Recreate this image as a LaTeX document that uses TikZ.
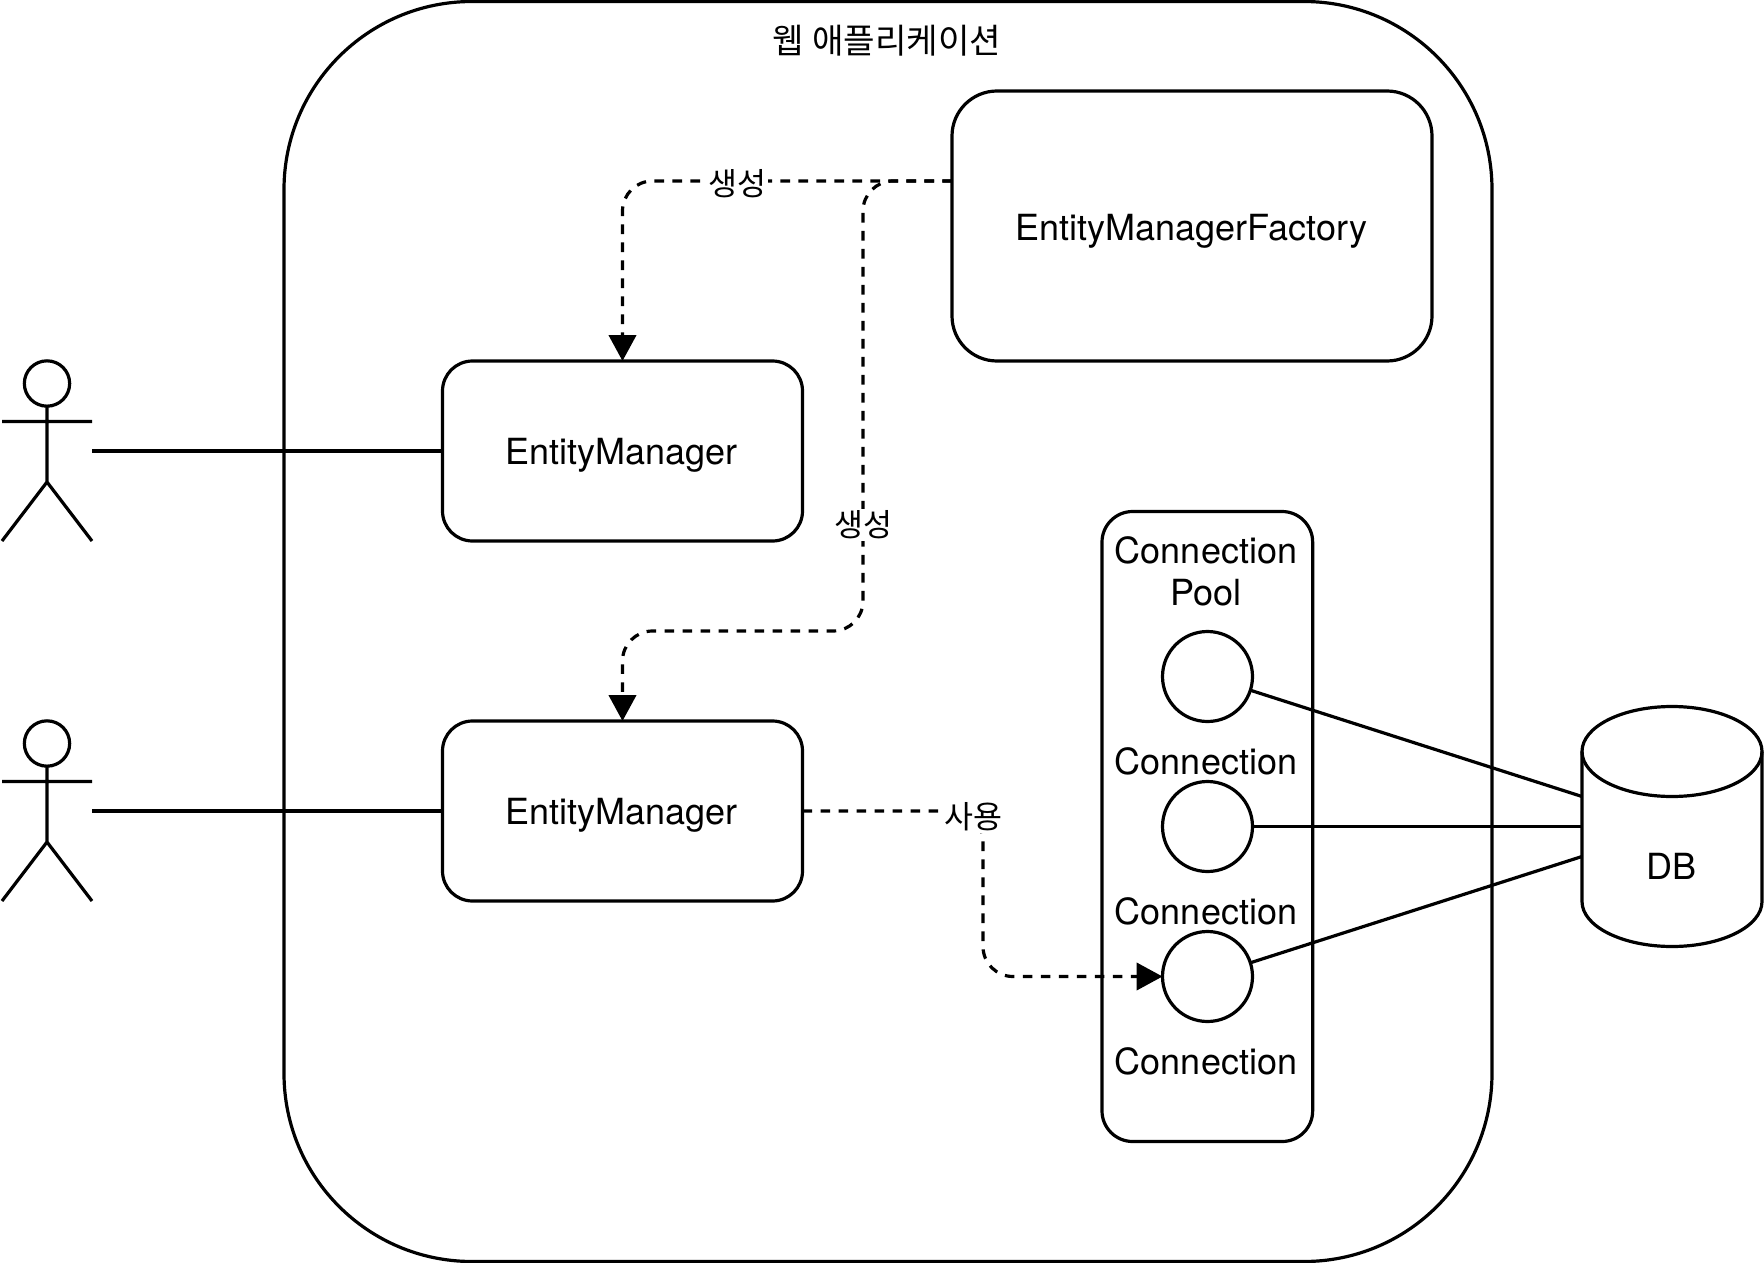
\documentclass[tikz,border=0pt]{standalone}
\usepackage{fontspec}
\setmainfont{TeX Gyre Heros}
\newfontfamily\krfont{Noto Sans CJK KR}
\usetikzlibrary{arrows.meta}
\tikzset{
  x=0.75pt,y=-0.75pt,
  ln/.style={draw=black,line width=2.4pt},
  rbox/.style={ln,rectangle,inner sep=0pt,outer sep=0pt,align=center,font=\fontsize{27}{31.5}\selectfont},
  txt/.style={inner sep=0pt,align=center,font=\fontsize{27}{31.5}\selectfont},
  krlabel/.style={fill=white,inner sep=1.5pt,font=\krfont\fontsize{23.6}{28}\selectfont},
  conn/.style={ln,dash pattern=on 7.2pt off 6.3pt,rounded corners=22.5pt},
  tip/.style={-{Triangle[length=19.5pt,width=20.5pt,sep=0pt]}},
  dot/.style={ln,circle,inner sep=0pt,outer sep=0pt,minimum size=67.5pt,fill=white},
  head/.style={ln,circle,inner sep=0pt,outer sep=0pt,minimum size=34pt}
}
\begin{document}
\begin{tikzpicture}
\useasboundingbox (0,0) rectangle (1764,1263);
% outer application box
\node[rbox,minimum width=906pt,minimum height=945pt,rounded corners=141pt,anchor=north west] (app) at (284,1.5) {};
\node[inner sep=0pt,font=\krfont\fontsize{25.7}{30}\selectfont] (apptitle) at (887,41) {웹 애플리케이션};
% main boxes
\node[rbox,minimum width=360pt,minimum height=202.5pt,rounded corners=33.75pt,anchor=north west] (emf) at (952,91) {};
\node[txt] (emft) at (1191.5,231) {EntityManagerFactory};
\node[rbox,minimum width=270pt,minimum height=135pt,rounded corners=22.5pt,anchor=north west] (em1) at (442.5,361) {};
\node[txt] (em1t) at (621.5,455.5) {EntityManager};
\node[rbox,minimum width=270pt,minimum height=135pt,rounded corners=22.5pt,anchor=north west] (em2) at (442.5,721) {};
\node[txt] (em2t) at (621.5,815.5) {EntityManager};
% pool
\node[rbox,minimum width=158pt,minimum height=472.5pt,rounded corners=23pt,anchor=north west] (pool) at (1102,511.5) {};
\node[txt] (poolt) at (1206,571.5) {Connection\\Pool};
\node[dot] (c1) at (1207.5,676.5) {};
\node[dot] (c2) at (1207.5,826.5) {};
\node[dot] (c3) at (1207.5,976.5) {};
\node[txt] (c1t) at (1206,761) {Connection};
\node[txt] (c2t) at (1206,911) {Connection};
\node[txt] (c3t) at (1206,1061) {Connection};
% database
\draw[ln] (1582,751.5) arc[start angle=180,end angle=0,x radius=67.5pt,y radius=33.75pt]
  -- (1762,901.5) arc[start angle=0,end angle=-180,x radius=67.5pt,y radius=33.75pt] -- cycle;
\draw[ln] (1582,751.5) arc[start angle=180,end angle=360,x radius=67.5pt,y radius=33.75pt];
\node[txt] (db) at (1671,866) {DB};
\coordinate (dba) at (1582,796.5);
\coordinate (dbb) at (1582,826.5);
\coordinate (dbc) at (1582,856.5);
\draw[ln] (c1) -- (dba);
\draw[ln] (c2) -- (dbb);
\draw[ln] (c3) -- (dbc);
% actors
\foreach \n/\dy in {a/0,b/360}{
  \node[head] (head\n) at (47,{383.5+\dy}) {};
  \coordinate (hip\n) at (47,{482+\dy});
  \coordinate (armL\n) at (2,{421.5+\dy});
  \coordinate (armR\n) at (92,{421.5+\dy});
  \coordinate (footL\n) at (2,{541+\dy});
  \coordinate (footR\n) at (92,{541+\dy});
  \coordinate (hand\n) at (92,{451+\dy});
  \draw[ln] (head\n) -- (hip\n) (armL\n) -- (armR\n) (footL\n) -- (hip\n) -- (footR\n);
}
\draw[ln] (handa) -- (em1.west);
\draw[ln] (handb) -- (em2.west);
% dashed connectors
\draw[conn,tip] (emf.west |- 0,181) -- (622.5,181) -- (em1.north);
\draw[conn,tip] (emf.west |- 0,181) -- (863,181) -- (863,631) -- (622.5,631) -- (em2.north);
\draw[conn,tip] (em2.east) -- (983,811) -- (983,976.5) -- (c3.west);
\node[krlabel] (l1) at (737,184) {생성};
\node[krlabel] (l2) at (863,525) {생성};
\node[krlabel] (l3) at (973,817) {사용};
\end{tikzpicture}
\end{document}
